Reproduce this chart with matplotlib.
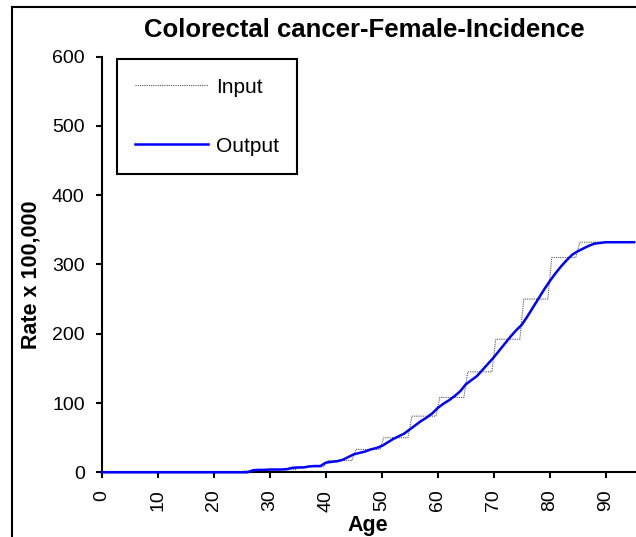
import numpy as np
import matplotlib
matplotlib.use("Agg")
import matplotlib.pyplot as plt
from matplotlib.lines import Line2D

plt.rcParams['font.family'] = ['Liberation Sans', 'DejaVu Sans']

# age groups (5-year bands, last one open) and input incidence per 100,000
group_start = [0, 5, 10, 15, 20, 25, 30, 35, 40, 45, 50, 55, 60, 65, 70, 75, 80, 85]
input_rate = [0, 0, 0, 0, 0, 2, 4, 8, 17, 33, 50, 81, 108, 145, 192, 250, 310, 332]
age_max = 95.4

# smoothed single-year output
output_age = list(range(0, 96))
output_rate = [0] * 27 + [
    3, 3.5, 3.5, 4, 4, 4, 4.5, 6.5, 7, 7, 8.5, 9, 9,            # 27-39
    14, 15, 16, 18, 22, 26, 28, 30, 33, 35,                     # 40-49
    38, 43, 48, 52, 56, 62, 68, 74, 79, 85,                     # 50-59
    93, 99, 104, 110, 117, 127, 133, 139, 148, 157,             # 60-69
    166, 176, 186, 196, 205, 213, 225, 238, 251, 264,           # 70-79
    276, 287, 297, 306, 314, 319, 323, 327, 330, 331,           # 80-89
    332, 332, 332, 332, 332, 332]                               # 90-95

# build the stepped input curve
ends = group_start[1:] + [age_max + 1]
step_x, step_y = [], []
for s, e, v in zip(group_start, ends, input_rate):
    step_x += [s + 0.35 if s > 0 else s, e - 0.35]
    step_y += [v, v]

W, H = 636, 537
fig = plt.figure(figsize=(W / 100, H / 100), dpi=100)
ax = fig.add_axes([102 / W, 1 - 472.3 / H, 1 - 102 / W, (472.3 - 56.5) / H])

ax.plot(step_x, step_y, color='#555555', lw=0.8, ls=(0, (1, 1)), label='Input', zorder=2)
ax.plot(output_age, output_rate, color='#0000ff', lw=1.8, label='Output', zorder=3,
        clip_on=False)

ax.set_xlim(0, age_max)
ax.set_ylim(0, 600)
ax.set_xticks(range(0, 100, 10))
ax.set_yticks(range(0, 700, 100))
ax.tick_params(axis='x', labelrotation=90)
ax.tick_params(direction='out', length=4.5, width=1.5, labelsize=14, color='black', pad=8)
for side in ('top', 'right'):
    ax.spines[side].set_visible(False)
for side in ('left', 'bottom'):
    ax.spines[side].set_linewidth(1.5)

ax.set_xlabel('Age', fontsize=15.5, fontweight='bold', va='center')
ax.xaxis.set_label_coords((368 - 102) / 534, (472.3 - 525) / 415.8)
ax.set_ylabel('Rate x 100,000', fontsize=15.5, fontweight='bold', va='center')
ax.yaxis.set_label_coords((31 - 102) / 534, (472.3 - 275) / 415.8)

fig.text(364 / W, 1 - 30 / H, 'Colorectal cancer-Female-Incidence',
         ha='center', va='center', fontsize=18.5, fontweight='bold')

leg = ax.legend(loc='upper left', bbox_to_anchor=(116.7 / W, 1 - 59.3 / H),
                bbox_transform=fig.transFigure, borderaxespad=0,
                fontsize=15, frameon=True, fancybox=False, framealpha=1,
                edgecolor='black', handlelength=3.5, handletextpad=0.38,
                labelspacing=1.92, borderpad=0.88)
leg.get_frame().set_linewidth(1.5)

# outer chart border
fig.add_artist(Line2D([12 / W, 12 / W], [0, 1 - 7 / H], color='black', lw=1.5))
fig.add_artist(Line2D([12 / W, 1], [1 - 7 / H, 1 - 7 / H], color='black', lw=1.5))

fig.savefig('out.png', dpi=100)
